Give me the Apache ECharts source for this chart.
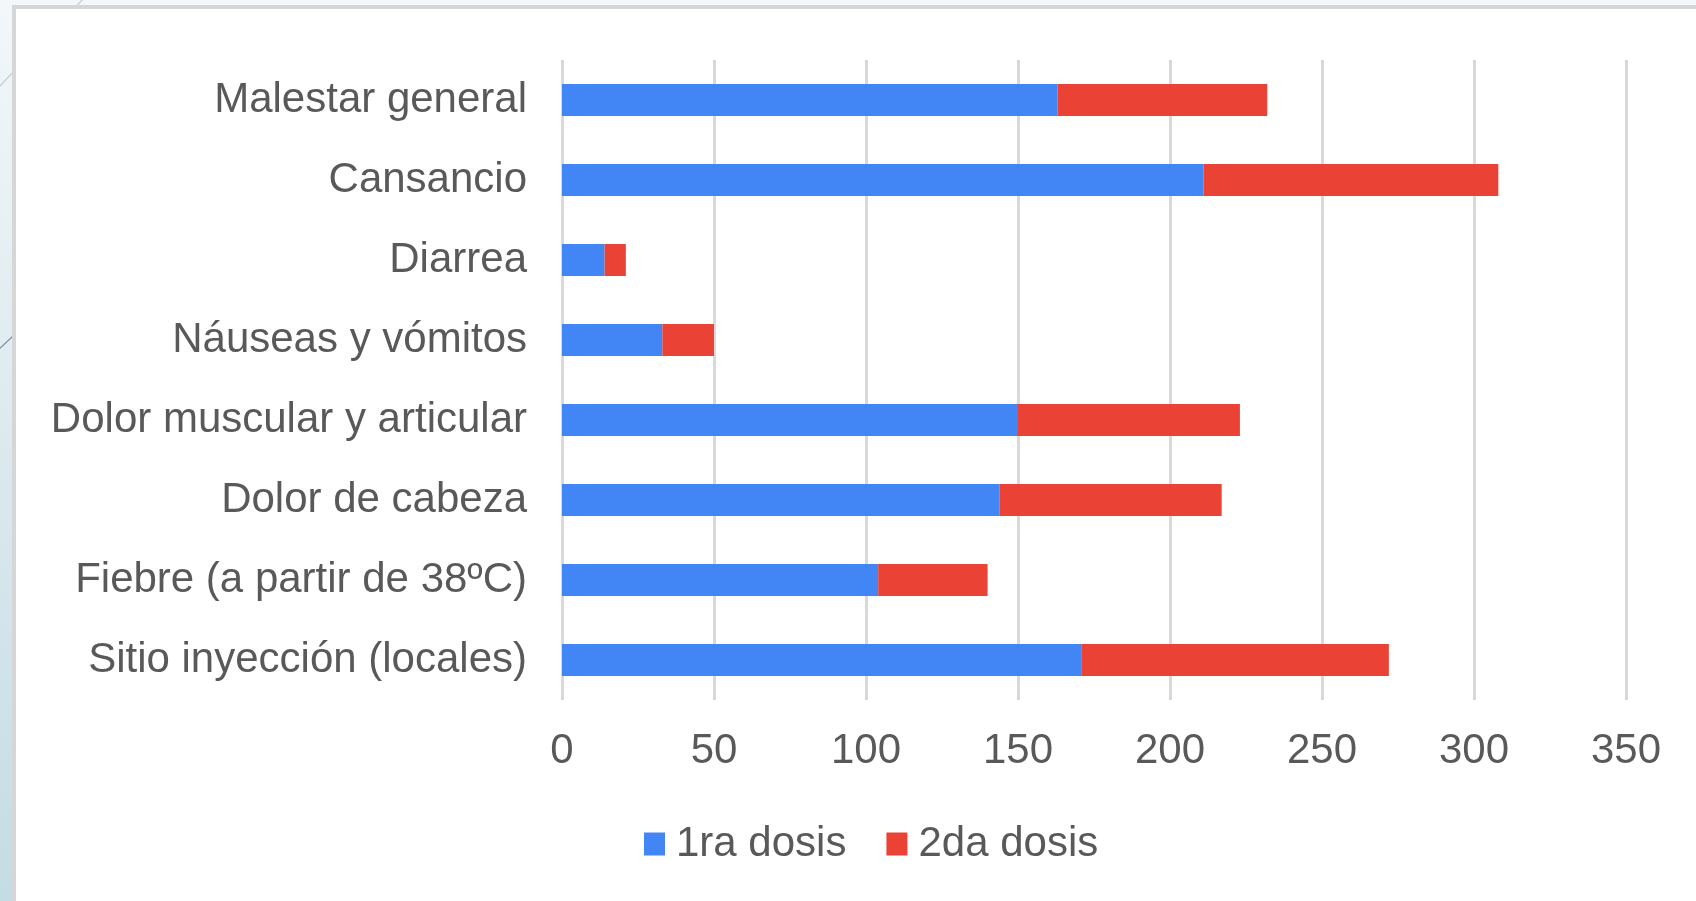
<!DOCTYPE html>
<html>
<head>
<meta charset="utf-8">
<title>Síntomas tras la vacunación</title>
<script src="https://cdn.jsdelivr.net/npm/echarts@6/dist/echarts.min.js"></script>
<style>
  html, body { margin: 0; padding: 0; }
  #chart { width: 1696px; height: 901px; }
</style>
</head>
<body>
<div id="chart"></div>
<script>
// Symptoms, listed top to bottom
const categories = [
  'Malestar general',
  'Cansancio',
  'Diarrea',
  'Náuseas y vómitos',
  'Dolor muscular y articular',
  'Dolor de cabeza',
  'Fiebre (a partir de 38ºC)',
  'Sitio inyección (locales)'
];
// Number of reports after each dose
const primeraDosis = [163, 211, 14, 33, 150, 144, 104, 171];
const segundaDosis = [69, 97, 7, 17, 73, 73, 36, 101];
const seriesNames = ['1ra dosis', '2da dosis'];
// Horizontal axis range and step
const axisMin = 0;
const axisMax = 350;
const axisStep = 50;

const FONT = '"Liberation Sans", Arial, sans-serif';
const TEXT = '#595959';
const BLUE = '#4285F4';
const RED = '#EA4335';

const chart = echarts.init(document.getElementById('chart'));

chart.setOption({
  backgroundColor: {
    type: 'linear', x: 0, y: 0, x2: 0, y2: 1,
    colorStops: [
      { offset: 0, color: '#f3f7f9' },
      { offset: 1, color: '#c4dce3' }
    ]
  },
  graphic: [
    // thin diagonal strokes of the slide background
    { type: 'line', z: -20, shape: { x1: 86, y1: -4, x2: -4, y2: 90 },
      style: { stroke: '#bccdd6', lineWidth: 1.2 } },
    { type: 'line', z: -20, shape: { x1: 30, y1: 320, x2: -4, y2: 352 },
      style: { stroke: '#6f8c9c', lineWidth: 1.2 } },
    // white card behind the chart
    { type: 'rect', z: -10, shape: { x: 14, y: 7, width: 1700, height: 900 },
      style: { fill: '#ffffff', stroke: '#d6d6d6', lineWidth: 4 } }
  ],
  grid: {
    left: 562,
    right: 70,
    top: 60,
    bottom: 201,
    containLabel: false
  },
  legend: {
    data: seriesNames,
    left: 639,
    top: 818,
    icon: 'rect',
    itemWidth: 21,
    itemHeight: 23,
    itemGap: 40,
    textStyle: {
      fontFamily: FONT,
      fontSize: 42,
      color: TEXT,
      padding: [0, 0, 0, 6]
    }
  },
  xAxis: {
    type: 'value',
    min: axisMin,
    max: axisMax,
    interval: axisStep,
    axisLine: { show: false },
    axisTick: { show: false },
    axisLabel: {
      margin: 30,
      fontFamily: FONT,
      fontSize: 42,
      color: TEXT
    },
    splitLine: {
      show: true,
      lineStyle: { color: '#d9d9d9', width: 3 }
    }
  },
  yAxis: {
    type: 'category',
    data: categories,
    inverse: true,
    axisLine: { show: false },
    axisTick: { show: false },
    axisLabel: {
      margin: 35,
      fontFamily: FONT,
      fontSize: 42,
      color: TEXT
    },
    splitLine: { show: false }
  },
  series: [
    {
      name: seriesNames[0],
      type: 'bar',
      stack: 'dosis',
      barWidth: 32,
      itemStyle: { color: BLUE },
      data: primeraDosis
    },
    {
      name: seriesNames[1],
      type: 'bar',
      stack: 'dosis',
      barWidth: 32,
      itemStyle: { color: RED },
      data: segundaDosis
    }
  ],
  animation: false
});
</script>
</body>
</html>
